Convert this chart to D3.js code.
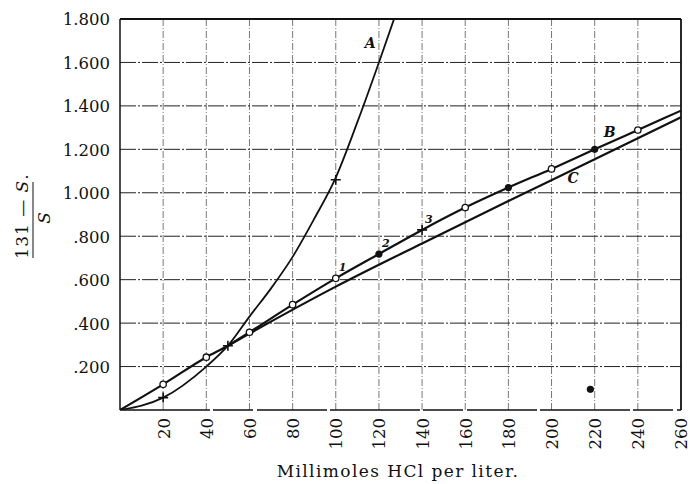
<!DOCTYPE html>
<html>
<head>
<meta charset="utf-8">
<script src="https://cdn.jsdelivr.net/npm/d3@7"></script>
<style>
  body { margin: 0; background: #fff; }
  text { font-family: "DejaVu Serif", "Liberation Serif", serif; fill: #111; }
</style>
</head>
<body>
<div id="chart"></div>
<script>
// Values.
const xTicks = [20, 40, 60, 80, 100, 120, 140, 160, 180, 200, 220, 240, 260];
const yTicks = [0.2, 0.4, 0.6, 0.8, 1.0, 1.2, 1.4, 1.6, 1.8];
const yTickLabels = [".200", ".400", ".600", ".800", "1.000", "1.200", "1.400", "1.600", "1.800"];

// Curve A (steep)
const aX = [0, 20, 40, 50, 60, 70, 80, 90, 100, 110, 120, 127];
const aY = [0, 0.057, 0.2, 0.296, 0.43, 0.56, 0.705, 0.88, 1.07, 1.325, 1.6, 1.8];
const aMarkX = [20, 50, 100];
const aMarkY = [0.057, 0.296, 1.06];

// Curve B (upper straight-ish line, with the observed points)
const bX = [0, 20, 40, 50, 60, 80, 100, 120, 140, 160, 180, 200, 220, 240, 260];
const bY = [0, 0.118, 0.243, 0.296, 0.358, 0.485, 0.606, 0.718, 0.829, 0.932, 1.024, 1.11, 1.2, 1.289, 1.378];
const bMarks = ["", "o", "o", "", "o", "o", "o", "f", "+", "o", "f", "o", "f", "o", ""];

// Curve C (lower line)
const cX = [50, 60, 100, 140, 180, 220, 260];
const cY = [0.296, 0.352, 0.568, 0.767, 0.962, 1.154, 1.348];

// lone point
const strayX = [218];
const strayY = [0.095];

// curve letters and point numbers
const curveNames = ["A", "B", "C"];
const curveNameX = [116, 227, 210];
const curveNameY = [1.69, 1.281, 1.068];
const pointNums = ["1", "2", "3"];
const pointNumX = [100, 120, 140];

const width = 690, height = 484;
const x = d3.scaleLinear().domain([0, 260]).range([120, 681]);
const y = d3.scaleLinear().domain([0, 1.8]).range([410, 19]);

const svg = d3.select("#chart").append("svg")
    .attr("width", width)
    .attr("height", height)
    .attr("viewBox", [0, 0, width, height]);

svg.append("clipPath").attr("id", "plot")
  .append("rect")
    .attr("x", x(0)).attr("y", y(1.8))
    .attr("width", x(260) - x(0)).attr("height", y(0) - y(1.8));

// grid
svg.append("g")
  .selectAll("line")
  .data(xTicks.slice(0, -1))
  .join("line")
    .attr("x1", d => x(d)).attr("x2", d => x(d))
    .attr("y1", y(1.8)).attr("y2", y(0))
    .attr("stroke", "#555")
    .attr("stroke-width", 0.8)
    .attr("stroke-dasharray", "7,2,1,2");

svg.append("g")
  .selectAll("line")
  .data(yTicks.slice(0, -1))
  .join("line")
    .attr("x1", x(0)).attr("x2", x(260))
    .attr("y1", d => y(d)).attr("y2", d => y(d))
    .attr("stroke", "#222")
    .attr("stroke-width", 1)
    .attr("stroke-dasharray", "16,2,2,2");

// frame
const frame = svg.append("g").attr("stroke", "#111").attr("fill", "none");
frame.append("line").attr("x1", x(0)).attr("x2", x(260)).attr("y1", y(1.8)).attr("y2", y(1.8)).attr("stroke-width", 2.2);
frame.append("line").attr("x1", x(0)).attr("x2", x(0)).attr("y1", y(1.8)).attr("y2", y(0)).attr("stroke-width", 1.5);
frame.append("line").attr("x1", x(260)).attr("x2", x(260)).attr("y1", y(1.8)).attr("y2", y(0)).attr("stroke-width", 1.8);
frame.append("line").attr("x1", x(0)).attr("x2", x(260)).attr("y1", y(0)).attr("y2", y(0))
    .attr("stroke-width", 1.4).attr("stroke-dasharray", "90,3,40,4,70,3");

// axes
const yAxis = svg.append("g")
    .attr("transform", `translate(${x(0)},0)`)
    .call(d3.axisLeft(y).tickValues(yTicks).tickSize(0).tickPadding(10)
      .tickFormat((d, i) => yTickLabels[i]));
yAxis.select(".domain").remove();
yAxis.selectAll("text")
    .style("font-family", "DejaVu Serif, serif")
    .style("font-size", "16.5px")
    .attr("dy", "0.36em");

const xAxis = svg.append("g")
    .attr("transform", `translate(0,${y(0)})`)
    .call(d3.axisBottom(x).tickValues(xTicks).tickSize(0).tickPadding(0));
xAxis.select(".domain").remove();
xAxis.selectAll("text")
    .style("font-family", "DejaVu Serif, serif")
    .style("font-size", "16.5px")
    .attr("transform", "rotate(-90)")
    .attr("text-anchor", "end")
    .attr("x", -8)
    .attr("y", 0)
    .attr("dy", "0.36em");

svg.append("text")
    .attr("x", 398).attr("y", 477)
    .attr("text-anchor", "middle")
    .style("font-size", "17px")
    .style("letter-spacing", "1.4px")
    .text("Millimoles HCl per liter.");

// y label as fraction
const yl = svg.append("g").attr("transform", "translate(33,218) rotate(-90)");
yl.append("text").attr("x", 2).attr("y", -5).attr("text-anchor", "middle")
    .style("font-size", "17px")
    .style("letter-spacing", "1px")
    .call(t => {
      t.append("tspan").text("131 — ");
      t.append("tspan").style("font-style", "italic").text("S");
      t.append("tspan").text(".");
    });
yl.append("line").attr("x1", -40).attr("x2", 36).attr("y1", 0).attr("y2", 0)
    .attr("stroke", "#111").attr("stroke-width", 1);
yl.append("text").attr("x", 0).attr("y", 17).attr("text-anchor", "middle")
    .style("font-size", "17px").style("font-style", "italic").text("S");

// curves
const curves = svg.append("g").attr("clip-path", "url(#plot)")
    .attr("fill", "none").attr("stroke", "#111");

const line = d3.line().x(d => x(d[0])).y(d => y(d[1])).curve(d3.curveMonotoneX);

curves.append("path").attr("d", line(d3.zip(aX, aY))).attr("stroke-width", 1.8);
curves.append("path").attr("d", line(d3.zip(bX, bY))).attr("stroke-width", 2.2);
curves.append("path").attr("d", line(d3.zip(cX, cY))).attr("stroke-width", 2.2);

// markers
const bPts = d3.zip(bX, bY, bMarks).filter(d => d[2] !== "");
svg.append("g").selectAll("circle")
  .data(bPts.filter(d => d[2] === "o"))
  .join("circle")
    .attr("cx", d => x(d[0])).attr("cy", d => y(d[1]))
    .attr("r", 3.2)
    .attr("fill", "#fff").attr("stroke", "#111").attr("stroke-width", 1.3);
svg.append("g").selectAll("circle")
  .data(bPts.filter(d => d[2] === "f").concat(d3.zip(strayX, strayY)))
  .join("circle")
    .attr("cx", d => x(d[0])).attr("cy", d => y(d[1]))
    .attr("r", 3.6)
    .attr("fill", "#111");

const crosses = d3.zip(aMarkX, aMarkY).concat(bPts.filter(d => d[2] === "+"));
svg.append("g").attr("stroke", "#111").attr("stroke-width", 1.6)
  .selectAll("path")
  .data(crosses)
  .join("path")
    .attr("d", d => {
      const cx = x(d[0]), cy = y(d[1]);
      return `M${cx - 5},${cy}H${cx + 5}M${cx},${cy - 5}V${cy + 5}`;
    });

// letters
svg.append("g").selectAll("text")
  .data(d3.zip(curveNames, curveNameX, curveNameY))
  .join("text")
    .attr("x", d => x(d[1])).attr("y", d => y(d[2]))
    .attr("text-anchor", "middle").attr("dy", "0.35em")
    .style("font-size", "14px").style("font-style", "italic").style("font-weight", "bold")
    .text(d => d[0]);

svg.append("g").selectAll("text")
  .data(pointNums.map((t, i) => [t, pointNumX[i], bY[bX.indexOf(pointNumX[i])]]))
  .join("text")
    .attr("x", d => x(d[1]) + 3).attr("y", d => y(d[2]) - 7)
    .style("font-size", "11px").style("font-style", "italic").style("font-weight", "bold")
    .text(d => d[0]);
</script>
</body>
</html>
